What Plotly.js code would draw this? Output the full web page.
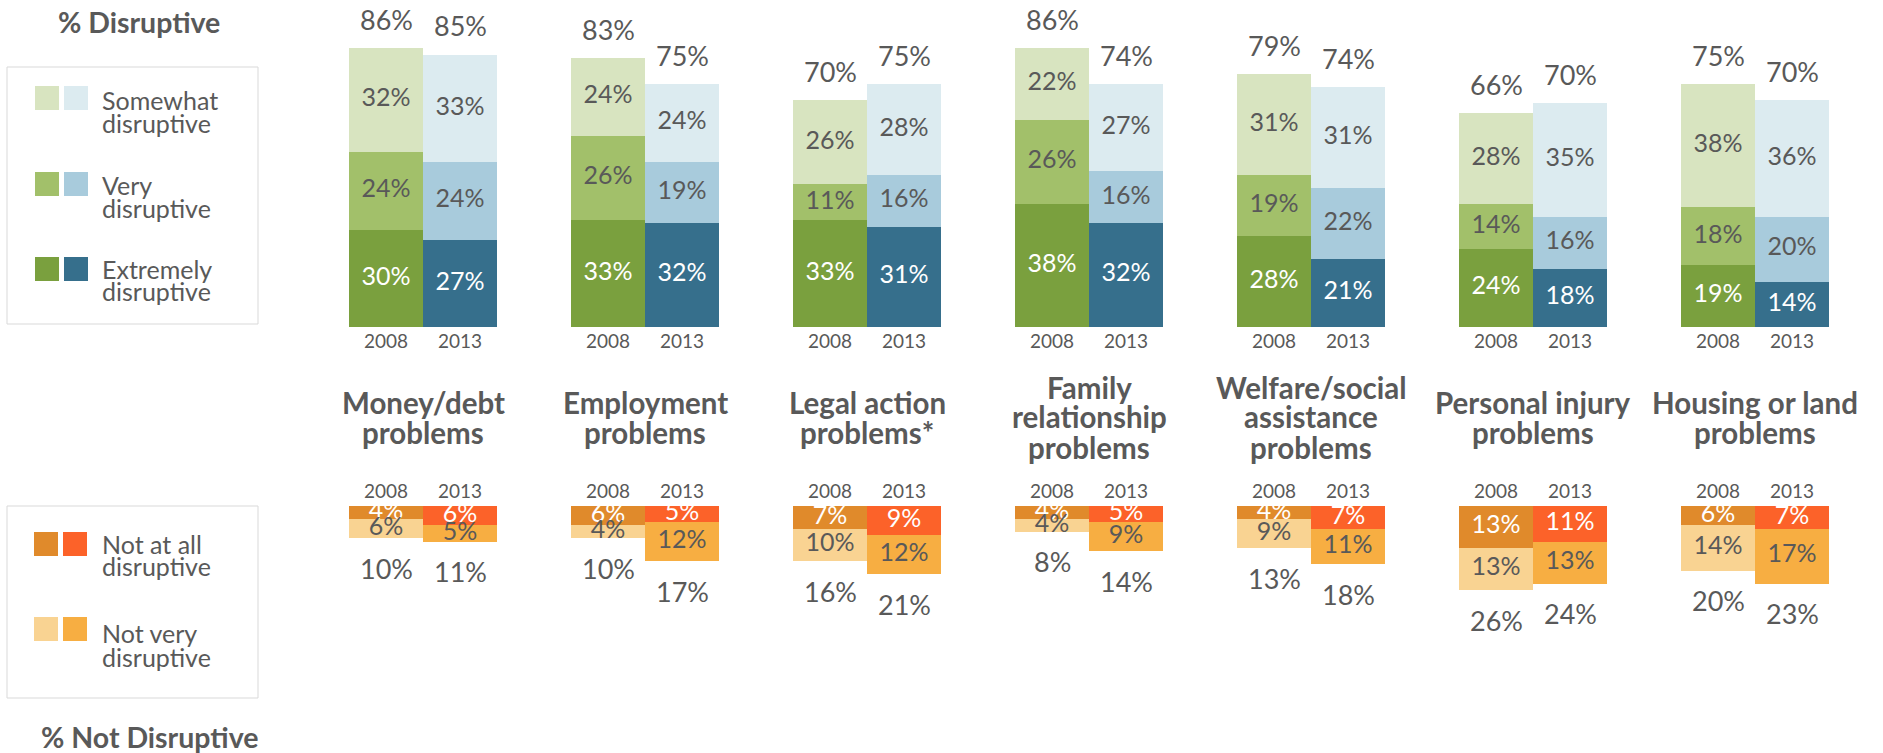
<!DOCTYPE html>
<html>
<head>
<meta charset="utf-8">
<script src="https://cdn.plot.ly/plotly-3.0.1.min.js"></script>
<style>html,body{margin:0;padding:0;background:#fff;}#chart{width:1883px;height:753px;}</style>
</head>
<body>
<div id="chart"></div>
<script>
// ---------- DATA ----------
const categories = ["Money/debt<br>problems", "Employment<br>problems", "Legal action<br>problems*",
  "Family<br>relationship<br>problems", "Welfare/social<br>assistance<br>problems",
  "Personal injury<br>problems", "Housing or land<br>problems"];
const years = ["2008", "2013"];

// % Disruptive
const extreme2008  = [30, 33, 33, 38, 28, 24, 19];
const very2008     = [24, 26, 11, 26, 19, 14, 18];
const somewhat2008 = [32, 24, 26, 22, 31, 28, 38];
const total2008    = [86, 83, 70, 86, 79, 66, 75];
const extreme2013  = [27, 32, 31, 32, 21, 18, 14];
const very2013     = [24, 19, 16, 16, 22, 16, 20];
const somewhat2013 = [33, 24, 28, 27, 31, 35, 36];
const total2013    = [85, 75, 75, 74, 74, 70, 70];

// % Not Disruptive
const notAtAll2008 = [4, 6, 7, 4, 4, 13, 6];
const notVery2008  = [6, 4, 10, 4, 9, 13, 14];
const notTotal2008 = [10, 10, 16, 8, 13, 26, 20];
const notAtAll2013 = [6, 5, 9, 5, 7, 11, 7];
const notVery2013  = [5, 12, 12, 9, 11, 13, 17];
const notTotal2013 = [11, 17, 21, 14, 18, 24, 23];

const legendTop = ["Somewhat<br>disruptive", "Very<br>disruptive", "Extremely<br>disruptive"];
const legendBottom = ["Not at all<br>disruptive", "Not very<br>disruptive"];
const panelTitles = ["% Disruptive", "% Not Disruptive"];

// ---------- STYLE ----------
const W = 1883, H = 753;
const FONT = "Lato, 'Open Sans', sans-serif";
const GREY = "#595959";
const C = {
  somewhat2008: "#d8e4c0", very2008: "#a2c06a", extreme2008: "#7aa03e",
  somewhat2013: "#dcebf0", very2013: "#a8cbdc", extreme2013: "#366f8c",
  notAtAll2008: "#e08a2b", notVery2008: "#f9d392",
  notAtAll2013: "#fc6229", notVery2013: "#f7ae42"
};
const px = p => p / W;
const py = p => 1 - p / H;

const idx = categories.map((_, i) => i);
const off = 1 / 6;
const x08 = idx.map(i => i - off);
const x13 = idx.map(i => i + off);

const traces = [];
function stack(xs, series, colors, textColors, xa, ya) {
  let base = xs.map(() => 0);
  series.forEach((vals, k) => {
    traces.push({
      type: "bar", x: xs, y: vals, width: 1 / 3, xaxis: xa, yaxis: ya,
      marker: { color: colors[k], line: { width: 0 } }, hoverinfo: "skip"
    });
    traces.push({
      type: "scatter", mode: "text", x: xs, y: vals.map((v, j) => base[j] + v / 2),
      text: vals.map(v => v + "%"), textposition: "middle center", cliponaxis: false,
      textfont: { family: FONT, size: 25, color: textColors[k] },
      xaxis: xa, yaxis: ya, hoverinfo: "skip"
    });
    base = base.map((b, j) => b + vals[j]);
  });
}
stack(x08, [extreme2008, very2008, somewhat2008], [C.extreme2008, C.very2008, C.somewhat2008], ["#ffffff", GREY, GREY], "x", "y");
stack(x13, [extreme2013, very2013, somewhat2013], [C.extreme2013, C.very2013, C.somewhat2013], ["#ffffff", GREY, GREY], "x", "y");
stack(x08, [notAtAll2008, notVery2008], [C.notAtAll2008, C.notVery2008], ["#ffffff", GREY], "x2", "y2");
stack(x13, [notAtAll2013, notVery2013], [C.notAtAll2013, C.notVery2013], ["#ffffff", GREY], "x2", "y2");

const annotations = [];
// totals
function totals(xs, segs, labels, xa, ya, shift) {
  xs.forEach((x, j) => {
    const end = segs.reduce((s, a) => s + a[j], 0);
    annotations.push({
      x: x, y: end, xref: xa, yref: ya, text: labels[j] + "%", showarrow: false,
      yanchor: "middle", yshift: shift, font: { family: FONT, size: 27, color: GREY }
    });
  });
}
totals(x08, [extreme2008, very2008, somewhat2008], total2008, "x", "y", 29);
totals(x13, [extreme2013, very2013, somewhat2013], total2013, "x", "y", 29);
totals(x08, [notAtAll2008, notVery2008], notTotal2008, "x2", "y2", -30);
totals(x13, [notAtAll2013, notVery2013], notTotal2013, "x2", "y2", -30);

// category titles
categories.forEach((cat, i) => {
  const lines = cat.split("<br>");
  lines.forEach((ln, j) => {
    const yp = 417 + (j - (lines.length - 1) / 2) * 30;
    annotations.push({
      x: i, xref: "x", y: py(yp), yref: "paper", text: "<b>" + ln + "</b>", showarrow: false,
      xanchor: "center", yanchor: "middle", font: { family: FONT, size: 29.5, color: GREY }
    });
  });
});

// panel titles
annotations.push({ x: px(139), y: py(22), xref: "paper", yref: "paper", text: "<b>" + panelTitles[0] + "</b>",
  showarrow: false, xanchor: "center", yanchor: "middle", font: { family: FONT, size: 28.5, color: GREY } });
annotations.push({ x: px(149), y: py(737), xref: "paper", yref: "paper", text: "<b>" + panelTitles[1] + "</b>",
  showarrow: false, xanchor: "center", yanchor: "middle", font: { family: FONT, size: 28.5, color: GREY } });

// legends
const shapes = [];
function box(x0, y0, x1, y1) {
  shapes.push({ type: "rect", xref: "paper", yref: "paper", x0: px(x0), x1: px(x1), y0: py(y1), y1: py(y0),
    line: { color: "#d9d9d9", width: 1 }, fillcolor: "rgba(0,0,0,0)" });
}
function swatch(x0, y0, color) {
  shapes.push({ type: "rect", xref: "paper", yref: "paper", x0: px(x0), x1: px(x0 + 24), y0: py(y0 + 24), y1: py(y0),
    line: { width: 0 }, fillcolor: color });
}
function legText(label, yLines) {
  label.split("<br>").forEach((ln, j) => {
    annotations.push({ x: px(100), y: py(yLines[j]), xref: "paper", yref: "paper", text: ln, showarrow: false,
      xanchor: "left", yanchor: "middle", font: { family: FONT, size: 25, color: GREY } });
  });
}
box(7, 67, 258, 324);
const topRows = [86, 172, 257];
const topCols = [[C.somewhat2008, C.somewhat2013], [C.very2008, C.very2013], [C.extreme2008, C.extreme2013]];
const topText = [[100, 123], [185, 208], [269, 291]];
topRows.forEach((y, k) => { swatch(35, y, topCols[k][0]); swatch(64, y, topCols[k][1]); legText(legendTop[k], topText[k]); });

box(7, 506, 258, 698);
const botRows = [532, 617];
const botCols = [[C.notAtAll2008, C.notAtAll2013], [C.notVery2008, C.notVery2013]];
const botText = [[544, 566], [633, 657]];
botRows.forEach((y, k) => { swatch(34, y, botCols[k][0]); swatch(63, y, botCols[k][1]); legText(legendBottom[k], botText[k]); });

const tickvals = x08.concat(x13);
const ticktext = x08.map(() => years[0]).concat(x13.map(() => years[1]));
const xCommon = {
  domain: [px(312), px(1866)], range: [-0.5, 6.5], tickvals: tickvals, ticktext: ticktext,
  showgrid: false, zeroline: false, showline: false, ticks: "", fixedrange: true,
  tickfont: { family: FONT, size: 19, color: GREY }
};
const pxPerPct = 3.24;
const layout = {
  width: W, height: H, margin: { l: 0, r: 0, t: 0, b: 0, pad: 0 },
  paper_bgcolor: "#ffffff", plot_bgcolor: "#ffffff", showlegend: false,
  barmode: "stack", bargap: 0,
  font: { family: FONT, color: GREY },
  xaxis: Object.assign({}, xCommon, { anchor: "y", side: "bottom", ticklabelstandoff: 1 }),
  yaxis: { domain: [py(327), py(3)], range: [0, 324 / pxPerPct], visible: false, fixedrange: true },
  xaxis2: Object.assign({}, xCommon, { anchor: "y2", side: "top", ticklabelstandoff: 3 }),
  yaxis2: { domain: [0, py(506)], range: [(H - 506) / pxPerPct, 0], visible: false, fixedrange: true },
  annotations: annotations, shapes: shapes
};
Plotly.newPlot("chart", traces, layout, { displayModeBar: false, staticPlot: true });
</script>
</body>
</html>
